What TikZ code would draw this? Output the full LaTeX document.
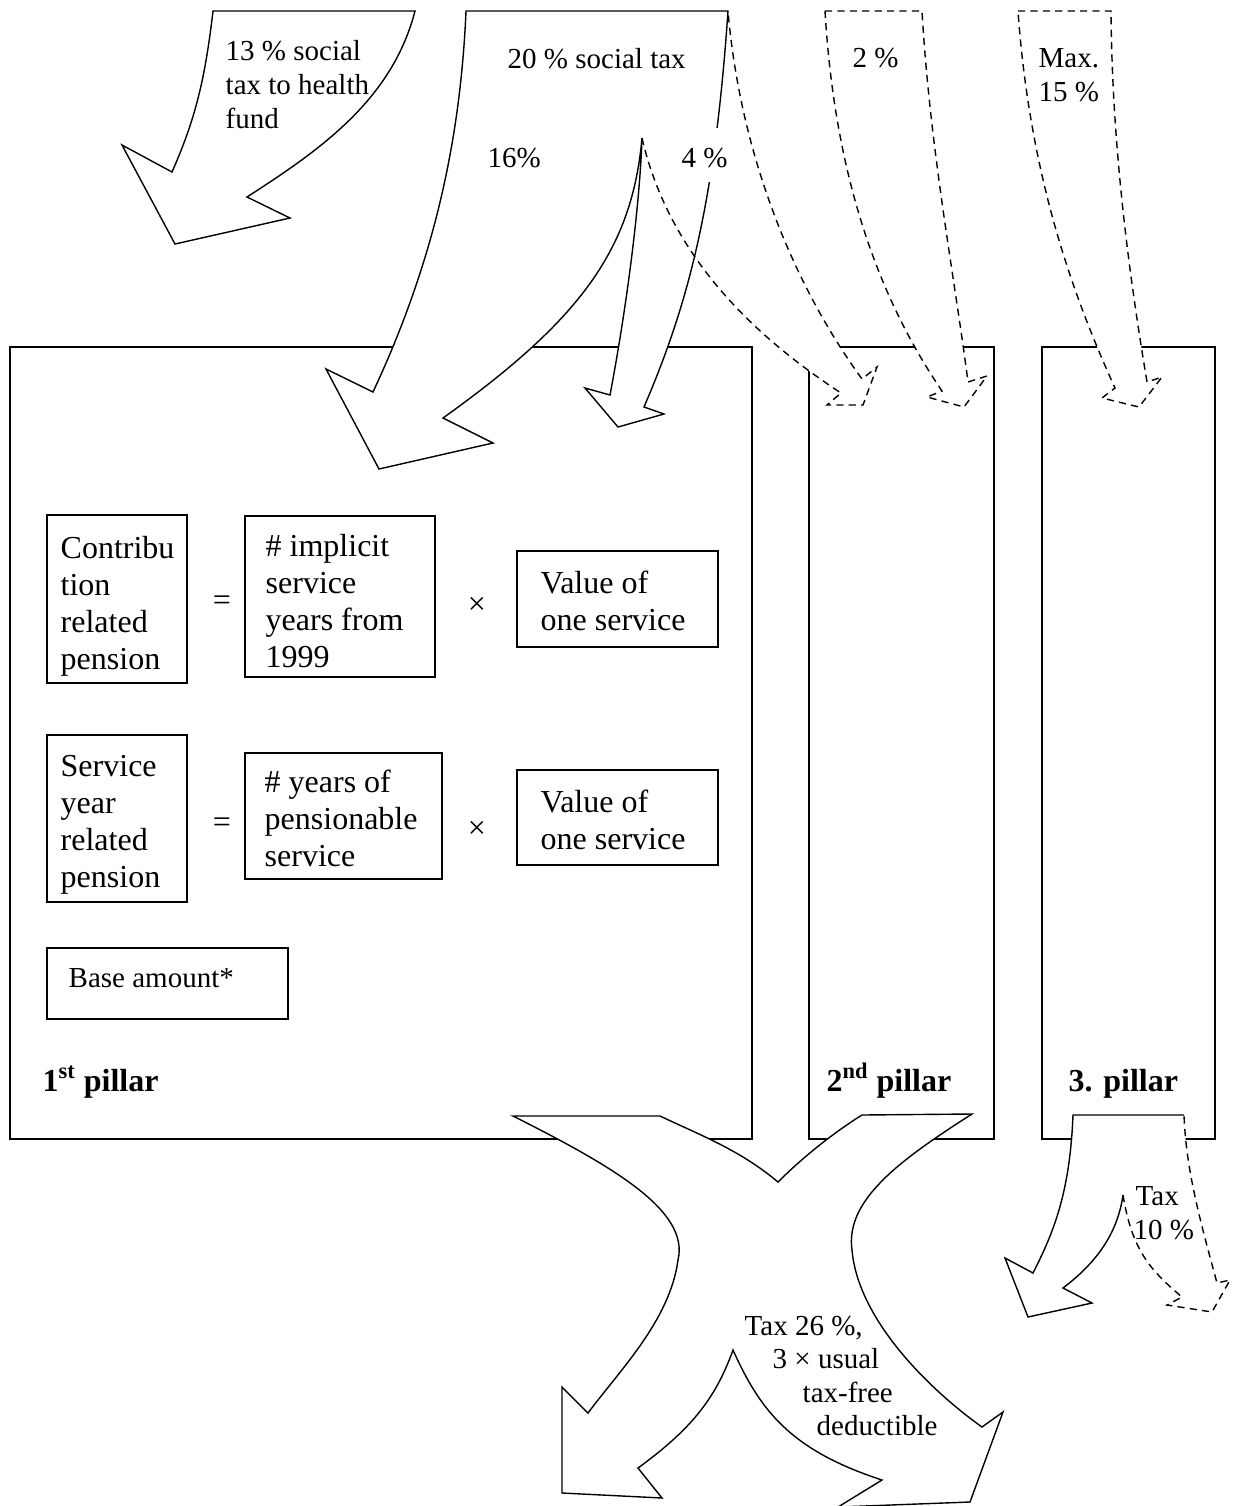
\documentclass[tikz,border=0pt]{standalone}
\usepackage{fontspec}
\setmainfont{Liberation Serif}
\begin{document}
\begin{tikzpicture}[x=0.5pt,y=-0.5pt,line width=0.7pt,
  lbl/.style={inner sep=0pt,anchor=north west,align=left,font=\fontsize{14.5}{16.8}\selectfont},
  btxt/.style={inner sep=0pt,anchor=north west,align=left,font=\fontsize{16}{18.5}\selectfont},
  pil/.style={inner sep=0pt,anchor=base west,font=\fontsize{16}{18.5}\selectfont\bfseries},
  op/.style={inner sep=0pt,font=\fontsize{16}{18.5}\selectfont},
  dsh/.style={dash pattern=on 3.6pt off 2.6pt},
  frame/.style={draw,line width=0.75pt}]
\useasboundingbox (0,0) rectangle (1236,1506);
\clip (0,0) rectangle (1236,1506);

% arrow outlines as macros
\def\pthA{(213,11) -- (415,11) .. controls (392,100) and (320,150) .. (247,197) -- (290,218) -- (175,244) -- (122,145) -- (172,172) .. controls (195,120) and (205,80) .. (213,11) -- cycle}
\def\pthB{(466,11) -- (728,11) .. controls (715,200) and (690,300) .. (644,407) -- (664,414) -- (618,427) -- (585,388) -- (610,395) .. controls (628,300) and (640,200) .. (642,138) .. controls (632,250) and (580,320) .. (443,418) -- (493,443) -- (379,469) -- (326,369) -- (373,392) .. controls (430,270) and (460,150) .. (466,11) -- cycle}
\def\pthC{(642,138) .. controls (670,260) and (760,340) .. (841,393) -- (827,405) -- (863,405) -- (877,367) -- (862,379) .. controls (790,280) and (740,150) .. (728,11)}
\def\pthD{(825,11) -- (922,11) .. controls (930,150) and (955,280) .. (968,382) -- (987,376) -- (964,407) -- (927,397) -- (942,391) .. controls (880,300) and (835,180) .. (825,11) -- cycle}
\def\pthE{(1018,11) -- (1111,11) .. controls (1112,150) and (1130,280) .. (1147,382) -- (1162,377) -- (1139,407) -- (1102,398) -- (1115,388) .. controls (1075,300) and (1030,180) .. (1018,11) -- cycle}
\def\pthF{(513,1116) -- (660,1116) .. controls (700,1135) and (740,1150) .. (778,1182) .. controls (800,1160) and (830,1135) .. (862,1115) -- (972,1114) .. controls (900,1160) and (845,1200) .. (852,1250) .. controls (858,1320) and (930,1390) .. (982,1427) -- (1003,1412) -- (970,1502) -- (838,1507) -- (882,1480) .. controls (790,1450) and (760,1410) .. (733,1350) .. controls (715,1400) and (690,1430) .. (638,1468) -- (662,1498) -- (562,1493) -- (562,1387) -- (588,1413) .. controls (620,1370) and (670,1320) .. (678,1260) .. controls (690,1210) and (610,1165) .. (513,1116) -- cycle}
\def\pthGs{(1184,1115) -- (1073,1115) .. controls (1070,1190) and (1055,1230) .. (1033,1273) -- (1005,1258) -- (1028,1317) -- (1092,1303) -- (1063,1288) .. controls (1100,1260) and (1118,1230) .. (1123,1195)}
\def\pthGt{.. controls (1132,1250) and (1150,1270) .. (1182,1297) -- (1167,1305) -- (1212,1312) -- (1230,1280) -- (1217,1283) .. controls (1200,1220) and (1186,1170) .. (1184,1115)}

% pillars
\draw[frame] (10,347) rectangle (752,1139);
\draw[frame] (809,347) rectangle (994,1139);
\draw[frame] (1042,347) rectangle (1215,1139);
% inner boxes
\draw[frame] (47,515) rectangle (187,683);
\draw[frame] (245,516) rectangle (435,677);
\draw[frame] (517,551) rectangle (718,647);
\draw[frame] (47,735) rectangle (187,902);
\draw[frame] (245,753) rectangle (442,879);
\draw[frame] (517,770) rectangle (718,865);
\draw[frame] (47,948) rectangle (288,1019);

% fills
\fill[white] \pthA;
\fill[white] \pthC -- cycle;
\fill[white] \pthB;
\fill[white] \pthD;
\fill[white] \pthE;
\fill[white] \pthF;
\fill[white] \pthGs \pthGt -- cycle;

% outlines
\draw \pthA;
\draw \pthB;
\draw[dsh] \pthC;
\draw[dsh] \pthD;
\draw[dsh] \pthE;
\draw \pthF;
\draw \pthGs;
\draw[dsh] (1123,1195) \pthGt;

\fill[white] (702,128) rectangle (732,182);

% labels
\node[lbl] (t13) at (225,40) {13 \% social\\tax to health\\fund};
\node[lbl] (t20) at (507,48) {20 \% social tax};
\node[lbl] (t16) at (487,148) {16\%};
\node[lbl] (t4) at (681,148) {4 \%};
\node[lbl] (t2) at (852,48) {2 \%};
\node[lbl] (tmax) at (1038,48) {Max.\\15 \%};
\node[lbl] (ttax10) at (1133,1186) {\hspace*{1pt}Tax\\10 \%};
\node[lbl] (ttax26) at (744,1315) {Tax 26 \%,\\\hspace*{14pt}3 × usual\\\hspace*{29pt}tax-free\\\hspace*{36pt}deductible};

\node[btxt] (c1) at (60,536) {Contribu\\tion\\related\\pension};
\node[btxt] (c2) at (265,534) {\# implicit\\service\\years from\\1999};
\node[btxt] (c3) at (540,570) {Value of\\one service};
\node[op] (eq1) at (222,603) {=};
\node[op] (x1) at (477,606) {×};
\node[btxt] (s1) at (60,755) {Service\\year\\related\\pension};
\node[btxt] (s2) at (264,769) {\# years of\\pensionable\\service};
\node[btxt] (s3) at (540,789) {Value of\\one service};
\node[op] (eq2) at (222,825) {=};
\node[op] (x2) at (477,830) {×};
\node[lbl] (ba) at (68,968) {Base amount*};

\node[pil] (p1) at (42,1091) {1\textsuperscript{st} pillar};
\node[pil] (p2) at (826,1091) {2\textsuperscript{nd} pillar};
\node[pil] (p3) at (1068,1091) {3. pillar};
\end{tikzpicture}
\end{document}
